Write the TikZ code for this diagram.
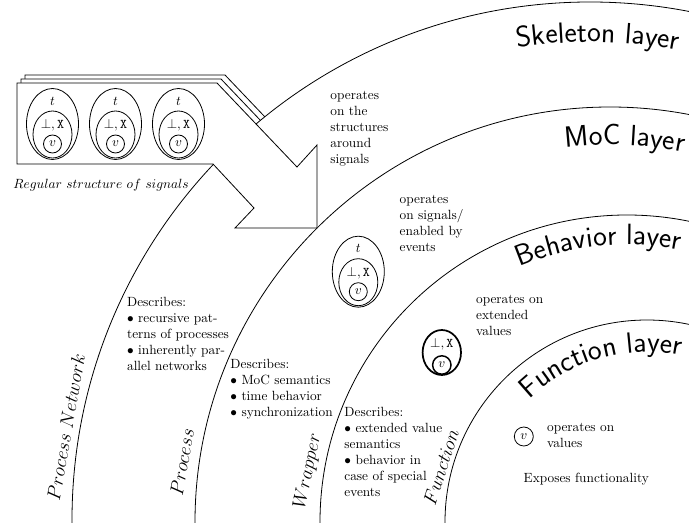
\documentclass[tikz,border=0pt]{standalone}
\usetikzlibrary{decorations.text}
\begin{document}
\begin{tikzpicture}[
    x=0.75pt, y=0.75pt,
    line width=0.6pt,
    % Styles
    desc/.style={align=left, inner sep=0pt, anchor=west},
    layername/.style={font=\fontsize{13.5}{16}\selectfont, inner sep=0pt},
    layertitle/.style={decorate, decoration={text along path, text align=right, text={|\fontsize{22}{26}\selectfont\sffamily|#1}}},
    sig/.pic={
        \draw (0,0) ellipse [x radius=26, y radius=35.5];
        \draw (0,-10.5) ellipse [x radius=19.5, y radius=23.5];
        \draw (0,-20) circle [radius=9];
        \node[inner sep=0pt] (-t) at (0,23) {$t$};
        \node[inner sep=0pt] (-bx) at (0,-1) {$\bot,\mathtt{X}$};
        \node[inner sep=0pt] (-v) at (0,-20) {$v$};
    },
]
\useasboundingbox (0,0) rectangle (689,522);

% Stacked signal sheets behind the arrow
\foreach \d in {8,4}
    \draw[fill=white, shift={(\d,\d)}] (17,439) -- (217,439) -- (297,355) -- (317,377) -- (317,294) -- (235,294) -- (254,314) -- (213,358) -- (17,358) -- cycle;

% Layer arcs
\begin{scope}
    \clip (0,0) rectangle (689,522);
    \fill[white] (590,2) circle [radius=518];
    \draw (590,2) circle [radius=518];
    \draw (610,0) circle [radius=415];
    \draw (627,0) circle [radius=307];
    \draw (647,0) circle [radius=202];
\end{scope}

% Front sheet with arrow
\draw[fill=white] (17,439) -- (217,439) -- (297,355) -- (317,377) -- (317,294) -- (235,294) -- (254,314) -- (213,358) -- (17,358) -- cycle;
\pic (s1) at (52.5,398) {sig};
\pic (s2) at (115.5,398) {sig};
\pic (s3) at (178.5,398) {sig};
\node[anchor=west, inner sep=0pt] (reg) at (13,337) {$Regular\ structure\ of\ signals$};

% Layer titles
\path[layertitle=Skeleton layer] (590,2) ++(120:478) arc [start angle=120, end angle=79.4, radius=478];
\path[layertitle=MoC layer] (610,0) ++(120:377) arc [start angle=120, end angle=78.8, radius=377];
\path[layertitle=Behavior layer] (627,0) ++(130:277) arc [start angle=130, end angle=79, radius=277];
\path[layertitle=Function layer] (647,0) ++(150:170) arc [start angle=150, end angle=78.5, radius=170];

% Skeleton layer
\node[desc] (skel-op) at (330,393.7) {operates\\on the\\structures\\around\\signals};
\node[layername, rotate=80] (pn) at (66,95) {$Process\ Network$};
\node[desc] (pn-desc) at (126.7,187.8) {Describes:\\$\bullet$ recursive pat-\\terns of processes\\$\bullet$ inherently par-\\allel networks};

% MoC layer
\pic (s4) at (358.3,250.3) {sig};
\node[desc] (moc-op) at (399.3,299) {operates\\on signals/\\enabled by\\events};
\node[layername, rotate=80] (pr) at (182,60) {$Process$};
\node[desc] (pr-desc) at (230,132.5) {Describes:\\$\bullet$ MoC semantics\\$\bullet$ time behavior\\$\bullet$ synchronization};

% Behavior layer
\draw[line width=1.3pt] (441.8,169.5) ellipse [x radius=19.2, y radius=22.5];
\draw[line width=1.1pt] (441.8,157) circle [radius=9.2];
\node[inner sep=0pt] (bx) at (441.8,178) {$\bot,\mathtt{X}$};
\node[inner sep=0pt] (bv) at (441.8,157.5) {$v$};
\node[desc] (beh-op) at (475.7,206.7) {operates on\\extended\\values};
\node[layername, rotate=78] (wr) at (308,51) {$Wrapper$};
\node[desc] (wr-desc) at (344,70) {Describes:\\$\bullet$ extended value\\semantics\\$\bullet$ behavior in\\case of special\\events};

% Function layer
\draw (523.8,85.5) circle [radius=9.5];
\node[inner sep=0pt] (fv) at (523.8,85.5) {$v$};
\node[desc] (fun-op) at (546.7,86.5) {operates on\\values};
\node[desc] (fun-exp) at (523.3,43) {Exposes functionality};
\node[layername, rotate=72] (fn) at (441,55) {$Function$};

\end{tikzpicture}
\end{document}
